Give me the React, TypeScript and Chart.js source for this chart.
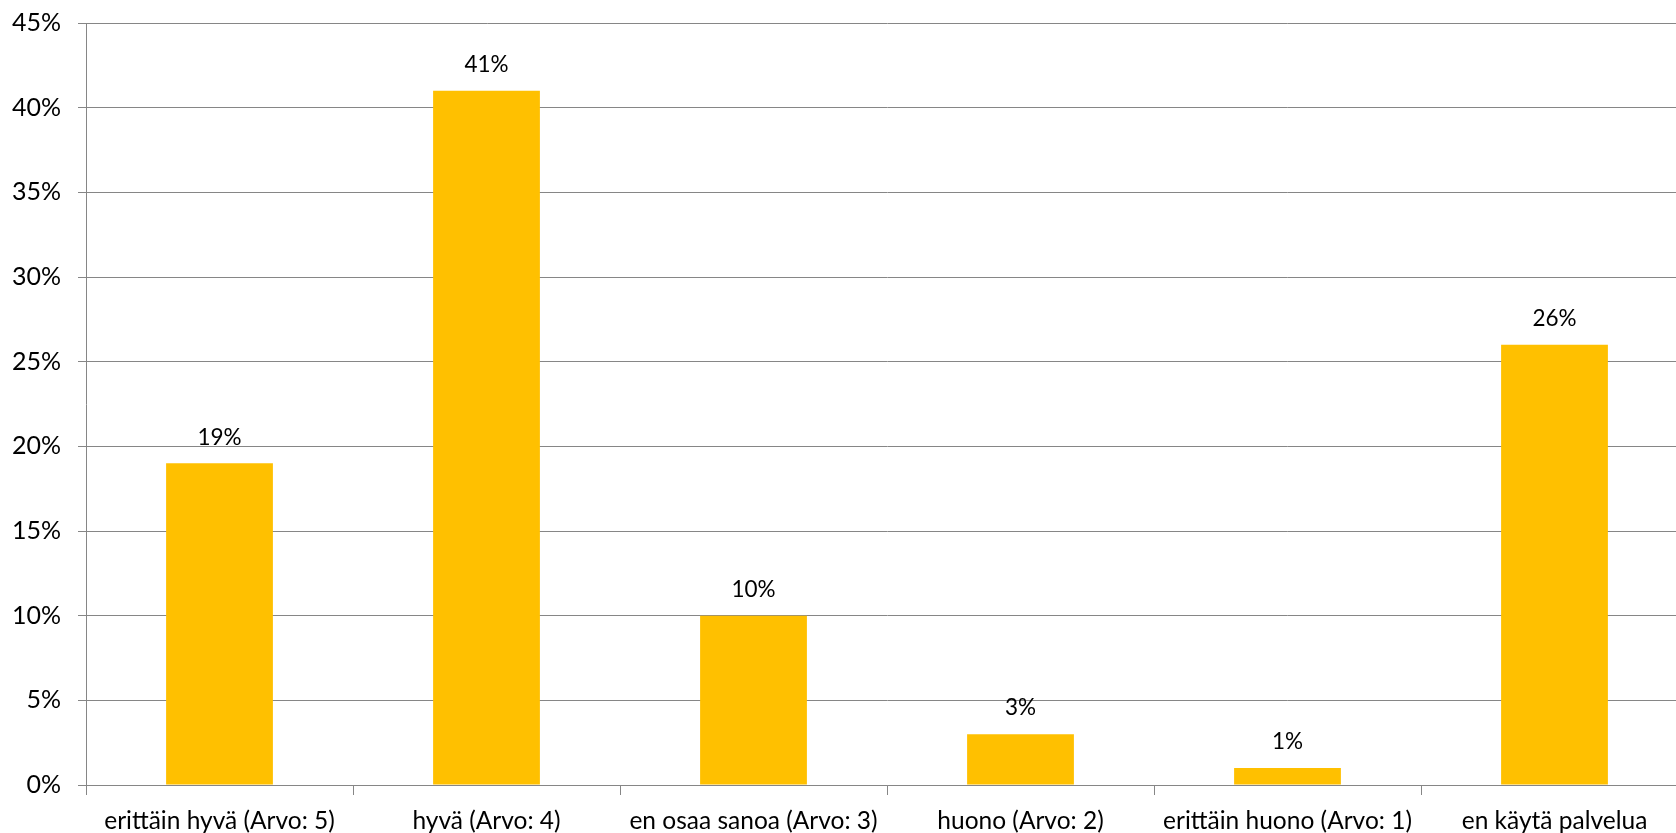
import React, { useEffect, useRef } from "react";
import { Chart, registerables } from "chart.js";

Chart.register(...registerables);

const categories = [
  "erittäin hyvä (Arvo: 5)",
  "hyvä (Arvo: 4)",
  "en osaa sanoa (Arvo: 3)",
  "huono (Arvo: 2)",
  "erittäin huono (Arvo: 1)",
  "en käytä palvelua",
];
const values = [19, 41, 10, 3, 1, 26];
const yTickMax = 45;
const yTickStep = 5;

const FONT = "Lato, 'Noto Sans', sans-serif";

const dataLabels = {
  id: "dataLabels",
  afterDatasetsDraw(chart: any) {
    const ctx = chart.ctx;
    const meta = chart.getDatasetMeta(0);
    ctx.save();
    ctx.fillStyle = "#000";
    ctx.font = `22.5px ${FONT}`;
    ctx.textAlign = "center";
    ctx.textBaseline = "middle";
    meta.data.forEach((bar: any, i: number) => {
      ctx.fillText(values[i] + "%", bar.x, bar.y - 26);
    });
    ctx.restore();
  },
};

export default function App() {
  const ref = useRef<HTMLCanvasElement>(null);
  useEffect(() => {
    document.body.style.margin = "0";
    const chart = new Chart(ref.current!, {
      type: "bar",
      data: {
        labels: categories,
        datasets: [
          {
            data: values,
            backgroundColor: "#FFC000",
            barPercentage: 0.4,
            categoryPercentage: 1,
          },
        ],
      },
      options: {
        animation: false,
        responsive: false,
        maintainAspectRatio: false,
        layout: { padding: { top: 23, left: 0, right: 0, bottom: 0 } },
        plugins: { legend: { display: false }, tooltip: { enabled: false } },
        scales: {
          x: {
            grid: {
              offset: true,
              drawOnChartArea: false,
              drawTicks: true,
              tickLength: 10,
              color: "#868686",
            },
            border: { color: "#868686" },
            ticks: {
              color: "#000",
              font: { family: FONT, size: 24.5 },
              padding: 11,
              maxRotation: 0,
              autoSkip: false,
            },
            afterFit(scale: any) {
              scale.height = 48;
              scale.paddingLeft = 0;
              scale.paddingRight = 0;
            },
          },
          y: {
            min: 0,
            max: yTickMax,
            grid: { color: "#868686", tickLength: 8 },
            border: { color: "#868686" },
            ticks: {
              stepSize: yTickStep,
              color: "#000",
              font: { family: FONT, size: 25 },
              padding: 17,
              callback: (v: any) => v + "%",
            },
            afterFit(scale: any) {
              scale.width = 86;
              scale.paddingTop = 0;
              scale.paddingBottom = 0;
            },
          },
        },
      },
      plugins: [dataLabels],
    });
    return () => chart.destroy();
  }, []);
  return (
    <div style={{ width: 1676, height: 833, overflow: "hidden" }}>
      <canvas ref={ref} width={1688} height={833} style={{ display: "block" }} />
    </div>
  );
}
